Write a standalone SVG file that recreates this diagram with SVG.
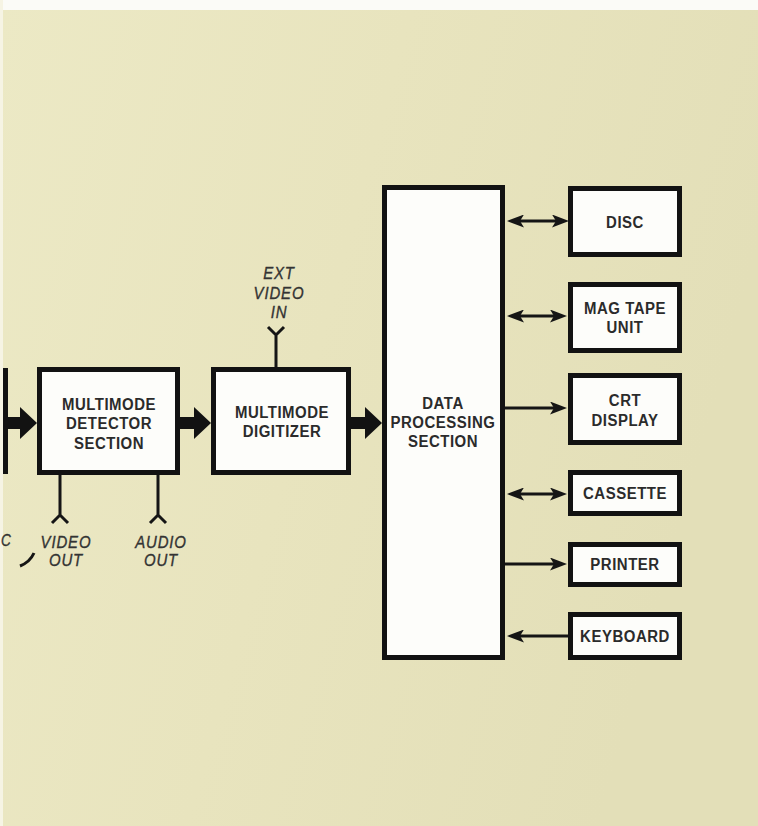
<svg xmlns="http://www.w3.org/2000/svg" width="758" height="826" viewBox="0 0 758 826">
<defs>
<linearGradient id="bg" x1="0" y1="0" x2="1" y2="0.3">
<stop offset="0" stop-color="#ece9c5"/>
<stop offset="0.5" stop-color="#e8e4be"/>
<stop offset="1" stop-color="#e3dfb8"/>
</linearGradient>
<marker id="ah" viewBox="0 0 17 13" markerWidth="17" markerHeight="13" refX="8" refY="6.5" orient="auto-start-reverse" markerUnits="userSpaceOnUse">
<path d="M0,0 L17,6.5 L0,13 L4,6.5 Z" fill="#151515"/>
</marker>
<style>
.box{fill:#fdfdfa;stroke:#121212;stroke-width:5}
.lbl{font-family:"Liberation Sans",Arial,sans-serif;font-weight:bold;font-size:17px;fill:#2b2b2b;text-anchor:middle;letter-spacing:0.6px}
.ital{font-family:"Liberation Sans",Arial,sans-serif;font-style:italic;font-size:17px;fill:#333;stroke:#333;stroke-width:0.35;text-anchor:middle;letter-spacing:1px}
.thin{stroke:#151515;stroke-width:3;fill:none}
.fat{fill:#121212}
.ant{stroke:#151515;stroke-width:3;fill:none;stroke-linejoin:miter}
</style>
</defs>
<rect x="0" y="0" width="758" height="826" fill="url(#bg)"/>
<rect x="0" y="0" width="758" height="10" fill="#fbfbf7"/>
<rect x="0" y="0" width="3" height="826" fill="#f6f4e4"/>

<g id="prev-edge">
<rect x="3" y="368" width="5" height="106" fill="#121212"/>
<text class="ital" transform="translate(1,546) scale(0.8,1)" style="text-anchor:start">C</text>
</g>

<g id="detector">
<rect class="box" x="39.5" y="369.5" width="138" height="103"/>
<text class="lbl" transform="translate(109,410) scale(0.88,1)">MULTIMODE</text>
<text class="lbl" transform="translate(109,429) scale(0.88,1)">DETECTOR</text>
<text class="lbl" transform="translate(109,449) scale(0.88,1)">SECTION</text>
</g>

<g id="digitizer">
<rect class="box" x="213.5" y="369.5" width="135" height="103"/>
<text class="lbl" transform="translate(282,418) scale(0.88,1)">MULTIMODE</text>
<text class="lbl" transform="translate(282,437) scale(0.88,1)">DIGITIZER</text>
</g>

<g id="data-processing">
<rect class="box" x="384.5" y="187.5" width="118" height="470"/>
<text class="lbl" transform="translate(443,409) scale(0.88,1)">DATA</text>
<text class="lbl" transform="translate(443,428) scale(0.88,1)">PROCESSING</text>
<text class="lbl" transform="translate(443,447) scale(0.88,1)">SECTION</text>
</g>

<g id="disc">
<rect class="box" x="570.5" y="188.5" width="109" height="66"/>
<text class="lbl" transform="translate(625,228) scale(0.88,1)">DISC</text>
</g>
<g id="mag-tape">
<rect class="box" x="570.5" y="284.5" width="109" height="66"/>
<text class="lbl" transform="translate(625,314) scale(0.88,1)">MAG TAPE</text>
<text class="lbl" transform="translate(625,333) scale(0.88,1)">UNIT</text>
</g>
<g id="crt">
<rect class="box" x="570.5" y="375.5" width="109" height="67"/>
<text class="lbl" transform="translate(625,406) scale(0.88,1)">CRT</text>
<text class="lbl" transform="translate(625,426) scale(0.88,1)">DISPLAY</text>
</g>
<g id="cassette">
<rect class="box" x="570.5" y="472.5" width="109" height="41"/>
<text class="lbl" transform="translate(625,499) scale(0.88,1)">CASSETTE</text>
</g>
<g id="printer">
<rect class="box" x="570.5" y="544.5" width="109" height="40"/>
<text class="lbl" transform="translate(625,570) scale(0.88,1)">PRINTER</text>
</g>
<g id="keyboard">
<rect class="box" x="570.5" y="614.5" width="109" height="43"/>
<text class="lbl" transform="translate(625,642) scale(0.88,1)">KEYBOARD</text>
</g>

<g id="ext-video-in">
<text class="ital" transform="translate(279,279) scale(0.88,1)">EXT</text>
<text class="ital" transform="translate(279,299) scale(0.88,1)">VIDEO</text>
<text class="ital" transform="translate(279,318) scale(0.88,1)">IN</text>
</g>
<g id="video-out">
<text class="ital" transform="translate(66,548) scale(0.88,1)">VIDEO</text>
<text class="ital" transform="translate(66,566) scale(0.88,1)">OUT</text>
</g>
<g id="audio-out">
<text class="ital" transform="translate(161,548) scale(0.88,1)">AUDIO</text>
<text class="ital" transform="translate(161,566) scale(0.88,1)">OUT</text>
</g>

<g id="connectors">
<path class="fat" d="M8,417 H20 V407 L37,423 L20,439 V429 H8 Z"/>
<path class="fat" d="M180,417 H194 V407 L211,423 L194,439 V429 H180 Z"/>
<path class="fat" d="M351,417 H365 V407 L382,423 L365,439 V429 H351 Z"/>
<path class="ant" d="M276,367 V334 M268,327 L276,335 L284,327"/>
<path class="ant" d="M60,475 V515 M52,523 L60,515 L68,523"/>
<path class="ant" d="M158,475 V515 M150,523 L158,515 L166,523"/>
<path class="thin" d="M20,566 Q30,562 34,553"/>
<line class="thin" x1="516" y1="221" x2="560" y2="221" marker-start="url(#ah)" marker-end="url(#ah)"/>
<line class="thin" x1="516" y1="316" x2="558" y2="316" marker-start="url(#ah)" marker-end="url(#ah)"/>
<line class="thin" x1="505" y1="408" x2="558" y2="408" marker-end="url(#ah)"/>
<line class="thin" x1="516" y1="494" x2="558" y2="494" marker-start="url(#ah)" marker-end="url(#ah)"/>
<line class="thin" x1="505" y1="564" x2="558" y2="564" marker-end="url(#ah)"/>
<line class="thin" x1="568" y1="636" x2="516" y2="636" marker-end="url(#ah)"/>
</g>
</svg>
